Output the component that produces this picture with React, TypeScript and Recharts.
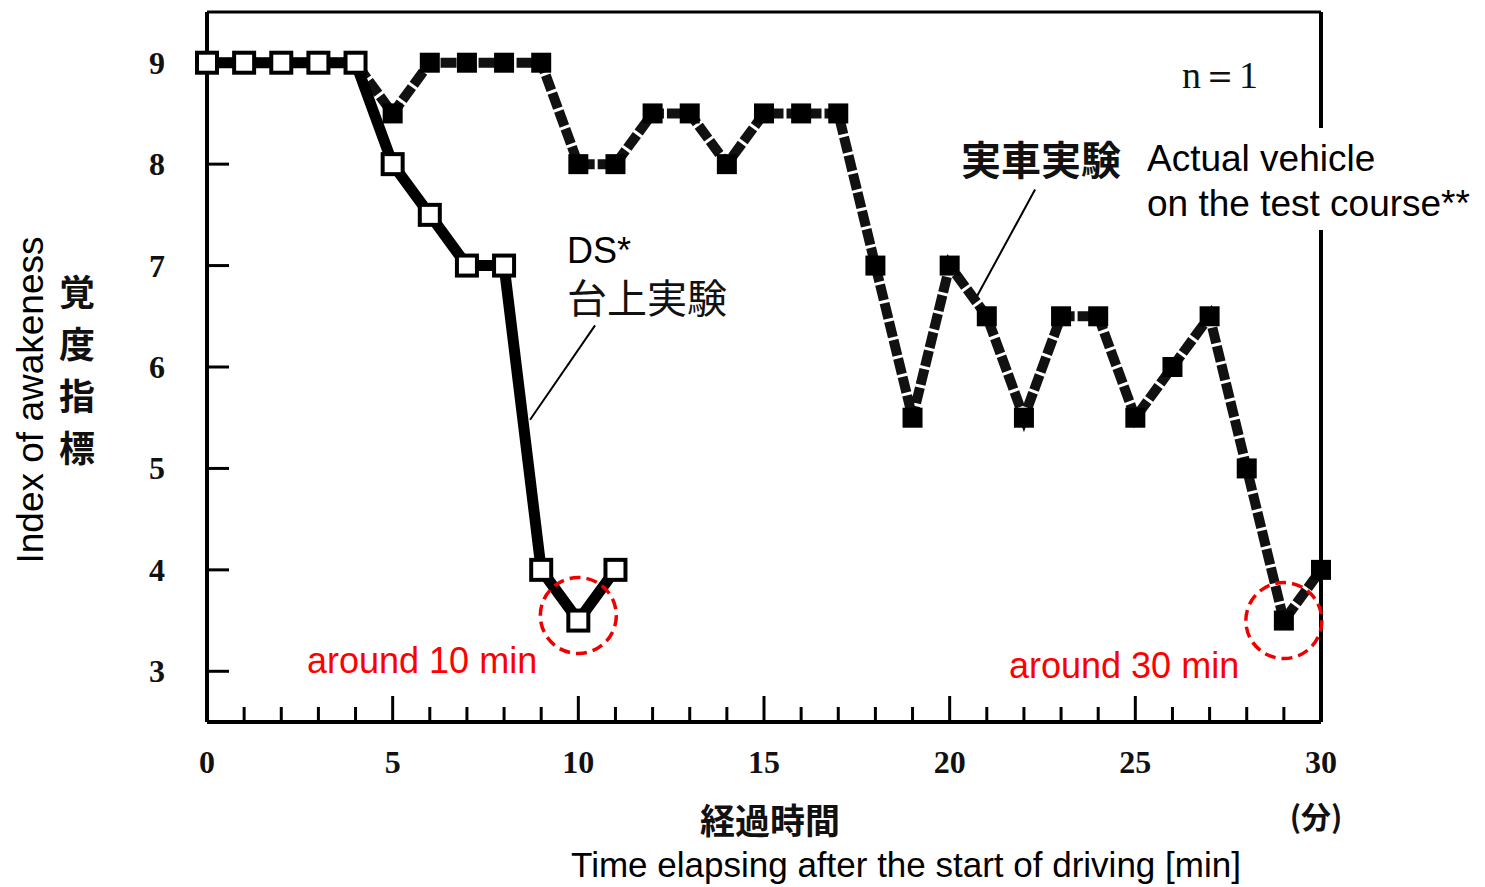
import React from 'react';
import { LineChart, Line, XAxis, YAxis, ReferenceLine, ReferenceDot } from 'recharts';

const minutes = [0, 1, 2, 3, 4, 5, 6, 7, 8, 9, 10, 11, 12, 13, 14, 15, 16, 17, 18, 19, 20, 21, 22, 23, 24, 25, 26, 27, 28, 29, 30];
const vehicleIndex = [9, 9, 9, 9, 9, 8.5, 9, 9, 9, 9, 8, 8, 8.5, 8.5, 8, 8.5, 8.5, 8.5, 7, 5.5, 7, 6.5, 5.5, 6.5, 6.5, 5.5, 6, 6.5, 5, 3.5, 4];
const dsIndex = [9, 9, 9, 9, 9, 8, 7.5, 7, 7, 4, 3.5, 4];
const xTicks = [0, 1, 2, 3, 4, 5, 6, 7, 8, 9, 10, 11, 12, 13, 14, 15, 16, 17, 18, 19, 20, 21, 22, 23, 24, 25, 26, 27, 28, 29, 30];
const yTicks = [3, 4, 5, 6, 7, 8, 9];
const yLabelJa = ['覚', '度', '指', '標'];

const data = minutes.map((t, i) => ({
  t,
  vehicle: vehicleIndex[i],
  ds: i < dsIndex.length ? dsIndex[i] : null,
}));

const tickFont = '"Liberation Serif", serif';
const sans = '"Liberation Sans", Arial, sans-serif';
const cjk = '"Noto Sans CJK JP", sans-serif';

function XTick(props: any) {
  const { x, y, payload } = props;
  const major = payload.value % 5 === 0;
  return (
    <g>
      <line x1={x} y1={y} x2={x} y2={y - (major ? 26 : 15)} stroke="#000" strokeWidth={3} />
      {major && (
        <text x={x} y={y + 40} textAnchor="middle" dominantBaseline="central"
          style={{ fontFamily: tickFont, fontSize: 32, fontWeight: 700, fill: '#111' }}>
          {payload.value}
        </text>
      )}
    </g>
  );
}

function YTick(props: any) {
  const { x, y, payload } = props;
  return (
    <g>
      {payload.value < 9 && <line x1={x} y1={y} x2={x + 22} y2={y} stroke="#000" strokeWidth={3} />}
      <text x={x - 50} y={y} textAnchor="middle" dominantBaseline="central"
        style={{ fontFamily: tickFont, fontSize: 32, fontWeight: 700, fill: '#111' }}>
        {payload.value}
      </text>
    </g>
  );
}

function OpenSquare(props: any) {
  const { cx, cy, index } = props;
  if (cx == null || cy == null) return <g key={'o' + index} />;
  return <rect key={'o' + index} x={cx - 10} y={cy - 10} width={20} height={20} fill="#fff" stroke="#000" strokeWidth={4} />;
}

function FilledSquare(props: any) {
  const { cx, cy, index } = props;
  if (cx == null || cy == null) return <g key={'f' + index} />;
  return <rect key={'f' + index} x={cx - 10} y={cy - 10} width={20} height={20} fill="#000" />;
}

export default function App() {
  return (
    <div style={{ position: 'absolute', left: 0, top: 0, width: 1485, height: 887, background: '#fff' }}>
      <LineChart width={1485} height={887} data={data} margin={{ top: 12, right: 164, bottom: 105, left: 147 }}>
        <XAxis
          dataKey="t" type="number" domain={[0, 30]} ticks={xTicks} interval={0}
          height={60} tickSize={0} tickMargin={0} tick={<XTick />}
          axisLine={{ stroke: '#000', strokeWidth: 4 }} tickLine={false}
        />
        <YAxis
          type="number" domain={[2.5, 9.5]} ticks={yTicks} interval={0}
          width={60} tickSize={0} tickMargin={0} tick={<YTick />}
          axisLine={{ stroke: '#000', strokeWidth: 4 }} tickLine={false}
        />
        <ReferenceLine y={9.5} stroke="#000" strokeWidth={3} />
        <ReferenceLine x={30} stroke="#000" strokeWidth={4} />
        <ReferenceLine segment={[{ x: 10.45, y: 6.41 }, { x: 8.7, y: 5.48 }]} stroke="#000" strokeWidth={2} />
        <ReferenceLine segment={[{ x: 22.3, y: 7.75 }, { x: 20.68, y: 6.66 }]} stroke="#000" strokeWidth={2} />
        <Line
          dataKey="vehicle" stroke="#111" strokeWidth={10} strokeDasharray="16 3"
          dot={FilledSquare} activeDot={false} isAnimationActive={false}
        />
        <Line
          dataKey="ds" stroke="#000" strokeWidth={11} connectNulls={false}
          dot={OpenSquare} activeDot={false} isAnimationActive={false}
        />
        <ReferenceDot x={10} y={3.55} r={38} fill="none" stroke="#e00" strokeWidth={3.5} strokeDasharray="11 6" />
        <ReferenceDot x={29} y={3.5} r={38} fill="none" stroke="#e00" strokeWidth={3.5} strokeDasharray="11 6" />
      </LineChart>
      <svg width={1485} height={887} style={{ position: 'absolute', left: 0, top: 0, pointerEvents: 'none' }}>
        <text x={1220} y={75} textAnchor="middle" dominantBaseline="central"
          style={{ fontFamily: tickFont, fontSize: 38, fill: '#111' }}>n＝1</text>
        <text x={1041} y={158} textAnchor="middle" dominantBaseline="central"
          style={{ fontFamily: cjk, fontSize: 40, fontWeight: 700, fill: '#111' }}>実車実験</text>
        <rect x={1140} y={128} width={340} height={102} fill="#fff" />
        <text x={1147} y={158} dominantBaseline="central" style={{ fontFamily: sans, fontSize: 37, fill: '#000' }}>Actual vehicle</text>
        <text x={1147} y={203} dominantBaseline="central" style={{ fontFamily: sans, fontSize: 37, fill: '#000' }}>on the test course**</text>
        <text x={567} y={250} dominantBaseline="central" style={{ fontFamily: sans, fontSize: 36, fill: '#000' }}>DS*</text>
        <text x={567} y={296} dominantBaseline="central" style={{ fontFamily: cjk, fontSize: 40, fill: '#111' }}>台上実験</text>
        <text x={307} y={660} dominantBaseline="central" style={{ fontFamily: sans, fontSize: 36, fill: '#f00' }}>around 10 min</text>
        <text x={1009} y={665} dominantBaseline="central" style={{ fontFamily: sans, fontSize: 36, fill: '#f00' }}>around 30 min</text>
        <text x={30} y={400} transform="rotate(-90 30 400)" textAnchor="middle" dominantBaseline="central"
          style={{ fontFamily: sans, fontSize: 37, fill: '#000' }}>Index of awakeness</text>
        {yLabelJa.map((c, i) => (
          <text key={c} x={77} y={290 + i * 52} textAnchor="middle" dominantBaseline="central"
            style={{ fontFamily: cjk, fontSize: 36, fontWeight: 700, fill: '#111' }}>{c}</text>
        ))}
        <text x={770} y={818} textAnchor="middle" dominantBaseline="central"
          style={{ fontFamily: cjk, fontSize: 35, fontWeight: 700, fill: '#111' }}>経過時間</text>
        <text x={1316} y={815} textAnchor="middle" dominantBaseline="central"
          style={{ fontFamily: cjk, fontSize: 30, fontWeight: 700, fill: '#111' }}>(分)</text>
        <text x={906} y={864} textAnchor="middle" dominantBaseline="central"
          style={{ fontFamily: sans, fontSize: 35, fill: '#000' }}>Time elapsing after the start of driving [min]</text>
      </svg>
    </div>
  );
}
